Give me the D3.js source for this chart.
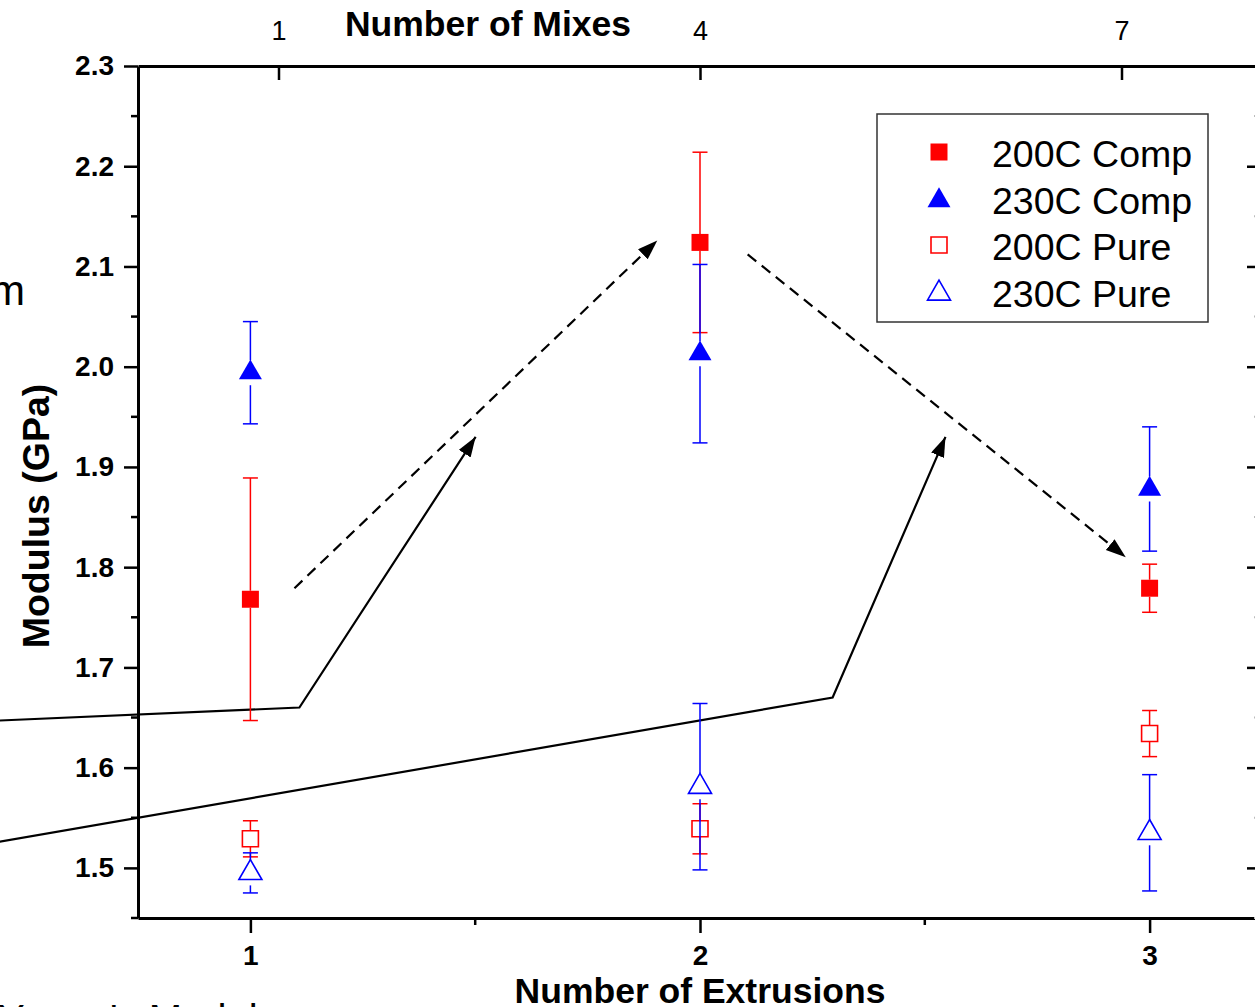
<!DOCTYPE html>
<head>
    <meta charset="utf-8"/>
    <script src="https://d3js.org/d3.v7.min.js"></script>
    <style>
        body { margin: 0; overflow: hidden; background: white; }
        svg text { font-family: "Liberation Sans", Arial, sans-serif; }
    </style>
</head>
<body>
    <svg id="chart" width="1255" height="1007"></svg>
    <script>
        // values
        let extrusions = [1, 2, 3];
        let mixTicks = [1, 4, 7];
        let yTicks = [1.5, 1.6, 1.7, 1.8, 1.9, 2.0, 2.1, 2.2, 2.3];
        let yMinor = [1.45, 1.55, 1.65, 1.75, 1.85, 1.95, 2.05, 2.15, 2.25];
        let xMinor = [1.5, 2.5];

        let comp200 = [1.768, 2.124, 1.779];
        let comp200Err = [0.121, 0.090, 0.024];
        let comp230 = [1.994, 2.013, 1.878];
        let comp230Err = [0.051, 0.089, 0.062];
        let pure200 = [1.529, 1.539, 1.634];
        let pure200Err = [0.018, 0.025, 0.023];
        let pure230 = [1.495, 1.581, 1.535];
        let pure230Err = [0.020, 0.083, 0.058];

        let seriesNames = ["200C Comp", "230C Comp", "200C Pure", "230C Pure"];

        // annotation arrows, in (extrusions, modulus) units
        let dashedArrows = [
            [[1.098, 1.779], [1.905, 2.126]],
            [[2.106, 2.112], [2.947, 1.810]]
        ];
        let solidArrows = [
            [[0.442, 1.647], [1.109, 1.660], [1.501, 1.930]],
            [[0.442, 1.526], [2.295, 1.670], [2.546, 1.930]]
        ];

        let svg = d3.select("svg#chart");
        let x = d3.scaleLinear().domain([0.75, 3.25]).range([138, 1262]);
        let xMix = d3.scaleLinear().domain([0, 8]).range([138, 1262]);
        let y = d3.scaleLinear().domain([1.45, 2.3]).range([918, 66]);

        let defs = svg.append("defs");
        defs.append("marker")
            .attr("id", "head")
            .attr("markerUnits", "userSpaceOnUse")
            .attr("markerWidth", 22)
            .attr("markerHeight", 16)
            .attr("refX", 20)
            .attr("refY", 7)
            .attr("orient", "auto")
            .append("path")
            .attr("d", "M0,0 L20,7 L0,14 Z")
            .style("fill", "black");

        // partial texts cut at the picture edges (as in the source figure)
        svg.append("text").text("m")
            .attr("x", 25).attr("y", 305)
            .attr("text-anchor", "end")
            .style("font-size", "42px");
        svg.append("text").text("Young's Modulus")
            .attr("x", -2).attr("y", 1033)
            .style("font-size", "40px");

        // left axis
        let leftAxis = svg.append("g").attr("transform", "translate(138,0)")
            .call(d3.axisLeft(y).tickValues(yTicks).tickSize(14).tickSizeOuter(0).tickPadding(10).tickFormat(d3.format(".1f")));
        leftAxis.selectAll("text").style("font-size", "28px").style("font-weight", "bold")
            .style("font-family", "'Liberation Sans', Arial, sans-serif");
        yMinor.forEach(function(v) {
            svg.append("line")
                .attr("x1", 131).attr("x2", 138)
                .attr("y1", y(v)).attr("y2", y(v))
                .style("stroke", "black").style("stroke-width", 2.5);
        });

        // bottom axis
        let bottomAxis = svg.append("g").attr("transform", "translate(0,918)")
            .call(d3.axisBottom(x).tickValues(extrusions).tickSize(15).tickSizeOuter(0).tickPadding(12).tickFormat(d3.format("d")));
        bottomAxis.selectAll("text").style("font-size", "28px").style("font-weight", "bold")
            .style("font-family", "'Liberation Sans', Arial, sans-serif");
        xMinor.forEach(function(v) {
            svg.append("line")
                .attr("x1", x(v)).attr("x2", x(v))
                .attr("y1", 918).attr("y2", 925)
                .style("stroke", "black").style("stroke-width", 2.5);
        });

        // top axis (mixes), ticks inward
        let topAxis = svg.append("g").attr("transform", "translate(0,66)")
            .call(d3.axisTop(xMix).tickValues(mixTicks).tickSize(-14).tickSizeOuter(0).tickPadding(26).tickFormat(d3.format("d")));
        topAxis.selectAll("text").style("font-size", "27px")
            .style("font-family", "'Liberation Sans', Arial, sans-serif");

        // right axis, ticks inward
        let rightAxis = svg.append("g").attr("transform", "translate(1262,0)")
            .call(d3.axisRight(y).tickValues(yTicks).tickSize(-15).tickSizeOuter(0).tickFormat(""));
        yMinor.forEach(function(v) {
            svg.append("line")
                .attr("x1", 1254).attr("x2", 1262)
                .attr("y1", y(v)).attr("y2", y(v))
                .style("stroke", "#bbb").style("stroke-width", 2);
        });

        [leftAxis, bottomAxis, topAxis, rightAxis].forEach(function(g) {
            g.select(".domain").style("stroke-width", 3);
            g.selectAll(".tick line").style("stroke-width", 2.5);
        });

        // axis titles
        svg.append("text").text("Number of Mixes")
            .attr("x", 488).attr("y", 36)
            .attr("text-anchor", "middle")
            .style("font-size", "35.5px").style("font-weight", "bold");
        svg.append("text").text("Number of Extrusions")
            .attr("x", 700).attr("y", 1003)
            .attr("text-anchor", "middle")
            .style("font-size", "35.5px").style("font-weight", "bold");
        svg.append("text").text("Modulus (GPa)")
            .attr("transform", "translate(49,516) rotate(-90)")
            .attr("text-anchor", "middle")
            .style("font-size", "37.5px").style("font-weight", "bold");

        // annotation arrows
        let line = d3.line().x(d => x(d[0])).y(d => y(d[1]));
        dashedArrows.forEach(function(a) {
            svg.append("path")
                .attr("d", line(a))
                .attr("marker-end", "url(#head)")
                .style("fill", "none").style("stroke", "black")
                .style("stroke-width", 2.2).style("stroke-dasharray", "11,7");
        });
        solidArrows.forEach(function(a) {
            svg.append("path")
                .attr("d", line(a))
                .attr("marker-end", "url(#head)")
                .style("fill", "none").style("stroke", "black")
                .style("stroke-width", 2.2);
        });

        // series
        let series = [
            {vals: comp200, errs: comp200Err, color: "#ff0000", shape: d3.symbolSquare, size: 289, filled: true, gap: 8.5},
            {vals: comp230, errs: comp230Err, color: "#0000ff", shape: d3.symbolTriangle, size: 229, filled: true, gap: 12.5},
            {vals: pure200, errs: pure200Err, color: "#ff0000", shape: d3.symbolSquare, size: 256, filled: false, gap: 8},
            {vals: pure230, errs: pure230Err, color: "#0000ff", shape: d3.symbolTriangle, size: 229, filled: false, gap: 12.5}
        ];

        series.forEach(function(s) {
            s.vals.forEach(function(v, i) {
                let cx = x(extrusions[i]);
                let cy = y(v);
                let yt = y(v + s.errs[i]);
                let yb = y(v - s.errs[i]);
                // error bar with gap around the symbol
                if (cy - s.gap > yt) {
                    svg.append("line").attr("x1", cx).attr("x2", cx)
                        .attr("y1", yt).attr("y2", cy - s.gap)
                        .style("stroke", s.color).style("stroke-width", 1.5);
                }
                if (cy + s.gap < yb) {
                    svg.append("line").attr("x1", cx).attr("x2", cx)
                        .attr("y1", cy + s.gap).attr("y2", yb)
                        .style("stroke", s.color).style("stroke-width", 1.5);
                }
                [yt, yb].forEach(function(cap) {
                    svg.append("line").attr("x1", cx - 7.5).attr("x2", cx + 7.5)
                        .attr("y1", cap).attr("y2", cap)
                        .style("stroke", s.color).style("stroke-width", 1.5);
                });
                svg.append("path")
                    .attr("d", d3.symbol().type(s.shape).size(s.size)())
                    .attr("transform", "translate(" + cx + "," + cy + ")")
                    .style("fill", s.filled ? s.color : "none")
                    .style("stroke", s.color)
                    .style("stroke-width", s.filled ? 0 : 1.6);
            });
        });

        // legend
        let legend = svg.append("g");
        legend.append("rect")
            .attr("x", 877).attr("y", 114)
            .attr("width", 331).attr("height", 208)
            .style("fill", "white").style("stroke", "#333").style("stroke-width", 1.5);
        seriesNames.forEach(function(name, i) {
            let s = series[i];
            let ry = 152 + i * 46.5;
            legend.append("path")
                .attr("d", d3.symbol().type(s.shape).size(s.size)())
                .attr("transform", "translate(939," + (ry + (s.shape === d3.symbolTriangle ? 2 : 0)) + ")")
                .style("fill", s.filled ? s.color : "none")
                .style("stroke", s.color)
                .style("stroke-width", s.filled ? 0 : 1.6);
            legend.append("text").text(name)
                .attr("x", 992).attr("y", ry + 15)
                .style("font-size", "37.5px");
        });
    </script>
</body>
